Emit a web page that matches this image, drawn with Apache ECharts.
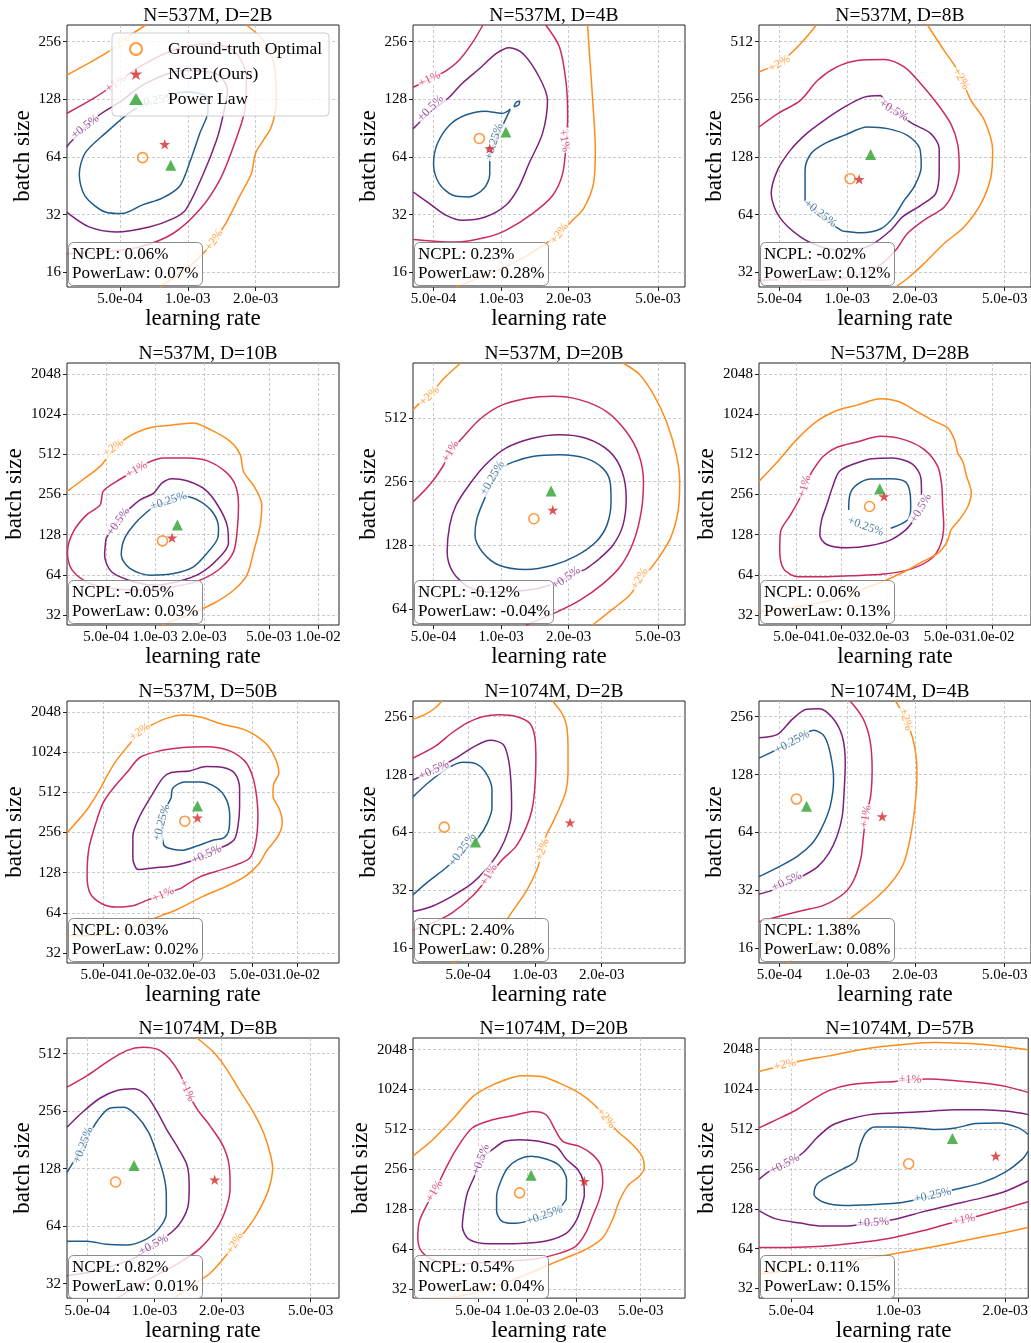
<!DOCTYPE html>
<html>
<head>
<meta charset="utf-8">
<script src="https://cdn.jsdelivr.net/npm/echarts@6/dist/echarts.min.js"></script>
<style>html,body{margin:0;padding:0;background:#fff}#main{width:1031px;height:1343px}</style>
</head>
<body>
<div id="main"></div>
<script>
// panel titles, axis ranges and ticks
var panelTitles = ["N=537M, D=2B", "N=537M, D=4B", "N=537M, D=8B", "N=537M, D=10B", "N=537M, D=20B", "N=537M, D=28B",
  "N=537M, D=50B", "N=1074M, D=2B", "N=1074M, D=4B", "N=1074M, D=8B", "N=1074M, D=20B", "N=1074M, D=57B"];
var lrRanges = [[2.91e-4, 4.69e-3], [4.05e-4, 6.6e-3], [4.06e-4, 6.54e-3], [2.88e-4, 1.345e-2], [4.05e-4, 6.6e-3], [2.84e-4, 1.82e-2],
  [2.86e-4, 1.9e-2], [2.82e-4, 4.75e-3], [4.06e-4, 6.54e-3], [4.06e-4, 6.7e-3], [1.99e-4, 9.36e-3], [4.06e-4, 2.32e-3]];
var bsRanges = [[13.4, 313], [13.4, 313], [26.8, 626], [26.9, 2477], [53.7, 933], [26.9, 2477],
  [26.9, 2477], [13.4, 309], [13.4, 309], [26.9, 618], [27.3, 2504], [27.1, 2504]];
var lrTicks = [[5e-4, 1e-3, 2e-3], [5e-4, 1e-3, 2e-3, 5e-3], [5e-4, 1e-3, 2e-3, 5e-3], [5e-4, 1e-3, 2e-3, 5e-3, 1e-2],
  [5e-4, 1e-3, 2e-3, 5e-3], [5e-4, 1e-3, 2e-3, 5e-3, 1e-2], [5e-4, 1e-3, 2e-3, 5e-3, 1e-2], [5e-4, 1e-3, 2e-3],
  [5e-4, 1e-3, 2e-3, 5e-3], [5e-4, 1e-3, 2e-3, 5e-3], [5e-4, 1e-3, 2e-3, 5e-3], [5e-4, 1e-3, 2e-3]];
var bsTicks = [[16, 32, 64, 128, 256], [16, 32, 64, 128, 256], [32, 64, 128, 256, 512], [32, 64, 128, 256, 512, 1024, 2048],
  [64, 128, 256, 512], [32, 64, 128, 256, 512, 1024, 2048], [32, 64, 128, 256, 512, 1024, 2048], [16, 32, 64, 128, 256],
  [16, 32, 64, 128, 256], [32, 64, 128, 256, 512], [32, 64, 128, 256, 512, 1024, 2048], [32, 64, 128, 256, 512, 1024, 2048]];

// optimum markers [lr, batch size]
var groundTruth = [[6.3e-4, 63.5], [8.0e-4, 80], [1.03e-3, 98.6], [1.11e-3, 115], [1.4e-3, 171], [1.54e-3, 208],
  [1.76e-3, 311], [3.9e-4, 68.2], [5.95e-4, 95.5], [6.7e-4, 109], [9.0e-4, 170], [1.07e-3, 281]];
var ncplOpt = [[7.9e-4, 74.5], [8.9e-4, 70.8], [1.13e-3, 98], [1.27e-3, 121.5], [1.7e-3, 188], [1.92e-3, 247],
  [2.14e-3, 330], [1.44e-3, 72], [1.43e-3, 77.5], [1.86e-3, 112], [2.25e-3, 208], [1.88e-3, 321]];
var powerLawOpt = [[8.4e-4, 57.9], [1.05e-3, 86.5], [1.27e-3, 132], [1.37e-3, 151], [1.67e-3, 231], [1.8e-3, 283],
  [2.14e-3, 404], [5.4e-4, 57], [6.6e-4, 87.5], [8.1e-4, 133], [1.06e-3, 231], [1.42e-3, 436]];
var ncplGap = ["0.06%", "0.23%", "-0.02%", "-0.05%", "-0.12%", "0.06%", "0.03%", "2.40%", "1.38%", "0.82%", "0.54%", "0.11%"];
var powerLawGap = ["0.07%", "0.28%", "0.12%", "0.03%", "-0.04%", "0.13%", "0.02%", "0.28%", "0.08%", "0.01%", "0.04%", "0.15%"];

var levelNames = ["+0.25%", "+0.5%", "+1%", "+2%"];

// contour lines: per level, a list of segments of [lr, batch size]
var lines537M2B = [
  [[[7.2e-4,127],[5.7e-4,112],[4.3e-4,85],[3.5e-4,67],[3.3e-4,52],[3.5e-4,40],[4.3e-4,33],[5.1e-4,32.4],[6.3e-4,36],[7.7e-4,39],[9.2e-4,45],[1.03e-3,62],[1.13e-3,85],[1.23e-3,112],[1.21e-3,132],[9.8e-4,140],[7.2e-4,127]]],
  [[[2.9e-4,72],[3.0e-4,76],[4.05e-4,106],[5.0e-4,124],[6.5e-4,155],[9.5e-4,181],[1.34e-3,174],[1.5e-3,143],[1.43e-3,104],[1.34e-3,78],[1.17e-3,52],[9.8e-4,34],[8.6e-4,30.5],[6.75e-4,27.6],[4.8e-4,26],[3.65e-4,27.6],[2.9e-4,33]]],
  [[[2.9e-4,108],[3.8e-4,129],[4.8e-4,155],[6.1e-4,189],[8.6e-4,231],[1.21e-3,250],[1.59e-3,231],[1.82e-3,167],[1.79e-3,112],[1.59e-3,72],[1.38e-3,48],[1.13e-3,34],[8.6e-4,25.5],[6.1e-4,21.7],[4.05e-4,20.4],[2.9e-4,20]]],
  [[[2.9e-4,171],[3.5e-4,193],[4.3e-4,222],[5.0e-4,250],[5.7e-4,282],[6.5e-4,313]],
   [[1.82e-3,313],[2.16e-3,260],[2.43e-3,189],[2.47e-3,126],[2.35e-3,92],[2.16e-3,78],[2.0e-3,67],[1.91e-3,52],[1.7e-3,40],[1.48e-3,29],[1.31e-3,23.5],[1.13e-3,19.2],[9.2e-4,15.7],[7.5e-4,13.4]]]
];
var labels537M2B = [[0,7.2e-4,126,10],[1,3.5e-4,92,38],[2,4.8e-4,155,35],[3,5.0e-4,250,40],[3,1.31e-3,23.5,55]];

var lines537M4B = [
  [[[1.1e-3,114],[1.01e-3,92],[9.3e-4,75],[8.9e-4,61.5],[8.9e-4,52],[8.4e-4,44],[7.2e-4,39.6],[6.1e-4,40.4],[5.3e-4,46.5],[5.0e-4,59],[5.2e-4,75],[5.9e-4,94],[6.95e-4,106],[8.5e-4,111],[1.01e-3,108],[1.1e-3,114]],
   [[1.14e-3,117],[1.17e-3,124],[1.21e-3,125],[1.2e-3,120],[1.14e-3,117]]],
  [[[4.06e-4,42],[4.8e-4,36.5],[5.7e-4,31.7],[6.7e-4,29.9],[8.5e-4,31.1],[1.05e-3,35.8],[1.2e-3,44.6],[1.33e-3,59],[1.53e-3,85],[1.61e-3,126.5],[1.48e-3,167],[1.25e-3,222],[1.09e-3,238],[9.5e-4,222],[8.0e-4,185],[6.7e-4,155],[5.9e-4,132],[4.85e-4,110],[4.06e-4,90]]],
  [[[8.3e-4,313],[7.4e-4,250],[6.5e-4,205],[5.7e-4,181],[4.8e-4,163],[4.06e-4,148]],
   [[1.58e-3,313],[1.82e-3,240],[1.95e-3,155],[1.98e-3,103.5],[1.95e-3,75],[1.88e-3,52.4],[1.7e-3,40.4],[1.38e-3,32.4],[1.05e-3,26.5],[8.5e-4,24.3],[6.3e-4,23],[4.9e-4,23.3],[4.06e-4,23.7]]],
  [[[2.43e-3,313],[2.47e-3,231],[2.56e-3,126.5],[2.63e-3,69],[2.58e-3,46.5],[2.33e-3,34.4],[2.08e-3,29.9],[1.82e-3,25.5],[1.58e-3,22.6],[1.2e-3,18.5],[8.5e-4,15.4],[6.3e-4,13.4]]]
];
var labels537M4B = [[2,4.8e-4,163,25],[1,4.85e-4,115,45],[0,9.3e-4,77,72],[2,1.91e-3,78,-80],[3,1.82e-3,25.5,55]];

var lines537M8B = [
  [[[9.5e-4,52.6],[1.15e-3,51.5],[1.41e-3,54],[1.61e-3,62.3],[1.79e-3,76],[1.98e-3,89.3],[2.13e-3,113.5],[2.1e-3,141.5],[1.85e-3,166],[1.51e-3,180],[1.23e-3,183.6],[9.7e-4,166],[7.9e-4,150],[6.9e-4,133],[6.5e-4,109],[6.5e-4,89],[6.5e-4,76],[7.6e-4,64.8],[8.7e-4,56.3],[9.5e-4,52.6]]],
  [[[1.41e-3,268],[1.19e-3,263],[9.7e-4,233],[7.9e-4,199],[6.6e-4,169.5],[5.6e-4,139],[4.9e-4,109],[4.6e-4,82.4],[5.0e-4,62.3],[6.2e-4,49],[7.9e-4,43],[1.0e-3,41.7],[1.27e-3,44.3],[1.56e-3,53],[1.76e-3,62.3],[2.12e-3,71.6],[2.47e-3,82.4],[2.56e-3,109],[2.56e-3,141.5],[2.35e-3,169.5],[1.95e-3,191],[1.61e-3,224],[1.41e-3,268]]],
  [[[4.06e-4,183.6],[4.9e-4,215],[6.2e-4,253],[7.4e-4,322],[9.0e-4,378],[1.11e-3,409],[1.46e-3,414],[1.79e-3,378],[2.12e-3,309],[2.51e-3,243],[2.88e-3,191],[3.09e-3,150],[3.14e-3,113.5],[2.98e-3,85.7],[2.69e-3,70],[2.19e-3,59.8],[1.85e-3,51],[1.64e-3,41.7],[1.36e-3,34.1],[1.03e-3,30.3],[7.4e-4,29.1],[5.6e-4,29.3],[4.06e-4,29.1]]],
  [[[4.06e-4,356],[4.6e-4,378],[5.0e-4,393],[5.6e-4,443],[6.4e-4,520],[7.3e-4,626]],
   [[2.27e-3,626],[2.69e-3,461],[3.09e-3,363],[3.54e-3,253],[4.06e-3,199],[4.42e-3,139],[4.34e-3,100.6],[3.92e-3,73],[3.3e-3,55.2],[2.69e-3,45.2],[2.19e-3,35.5],[1.85e-3,29.7],[1.64e-3,26.8]]]
];
var labels537M8B = [[3,5.0e-4,393,30],[3,3.2e-3,328,-60],[1,1.61e-3,224,-30],[0,7.6e-4,64.8,-38],[2,5.6e-4,29.3,0]];

var lines537M10B = [
  [[[9.5e-4,202],[7.7e-4,160],[6.5e-4,120],[6.2e-4,90],[7.0e-4,71.4],[9.3e-4,63.6],[1.3e-3,65.5],[1.72e-3,73.5],[2.08e-3,92.6],[2.42e-3,120],[2.45e-3,143],[2.28e-3,185],[1.89e-3,227],[1.53e-3,247],[1.21e-3,227],[9.5e-4,202]]],
  [[[5.0e-4,120],[4.9e-4,90],[5.4e-4,67.4],[7.4e-4,56.7],[1.02e-3,53.5],[1.42e-3,57.4],[1.89e-3,65.5],[2.39e-3,82.5],[2.82e-3,110],[2.78e-3,147],[2.45e-3,208],[2.03e-3,278],[1.57e-3,324],[1.27e-3,336],[1.1e-3,311],[9.8e-4,262],[8.1e-4,233],[6.7e-4,191],[5.8e-4,156],[5.0e-4,120]]],
  [[[8.9e-4,440],[1.13e-3,480],[1.57e-3,480],[2.08e-3,459],[2.69e-3,381],[3.1e-3,303],[3.25e-3,214],[3.2e-3,143],[3.03e-3,95],[2.51e-3,71.4],[1.89e-3,58.4],[1.3e-3,52],[8.9e-4,49],[5.8e-4,50],[4.0e-4,55],[3.1e-4,69.4],[2.9e-4,95],[3.15e-4,135],[3.8e-4,180],[4.6e-4,214],[4.8e-4,270],[5.8e-4,321],[7.4e-4,381],[8.9e-4,440]]],
  [[[2.88e-4,270],[3.6e-4,330],[4.6e-4,416],[5.55e-4,555],[6.7e-4,679],[8.9e-4,799],[1.24e-3,846],[1.72e-3,881],[2.18e-3,785],[2.89e-3,641],[3.33e-3,509],[3.49e-3,381],[4.11e-3,286],[4.52e-3,214],[4.42e-3,151],[4.02e-3,95],[3.66e-3,63.6],[3.03e-3,49],[2.28e-3,39],[1.57e-3,31.8],[1.1e-3,26.9]]]
];
var labels537M10B = [[3,5.55e-4,571,35],[2,7.7e-4,393,30],[1,5.95e-4,160,55],[0,1.21e-3,229,18]];

var lines537M20B = [
  [[[8.4e-4,210],[7.8e-4,171],[7.65e-4,143],[8.25e-4,119],[9.8e-4,103],[1.29e-3,98.4],[1.7e-3,103],[2.16e-3,114],[2.65e-3,133],[2.96e-3,159],[3.09e-3,206],[3.06e-3,256],[2.84e-3,296],[2.39e-3,330],[1.82e-3,343],[1.38e-3,337],[1.12e-3,316],[9.8e-4,291],[9.15e-4,256],[8.4e-4,210]]],
  [[[2.39e-3,99],[1.88e-3,88],[1.53e-3,81],[1.2e-3,77.7],[9.15e-4,76.8],[7.2e-4,81],[6.1e-4,95.6],[5.75e-4,119],[5.9e-4,159],[6.3e-4,198],[7.2e-4,247],[8.5e-4,307],[1.05e-3,369],[1.38e-3,411],[1.82e-3,427],[2.39e-3,411],[3.04e-3,356],[3.46e-3,286],[3.61e-3,213],[3.49e-3,159],[3.15e-3,128],[2.74e-3,110.6],[2.39e-3,99]]],
  [[[4.06e-4,206],[4.8e-4,247],[5.5e-4,302],[5.95e-4,356],[6.7e-4,411],[8.0e-4,503],[9.8e-4,582],[1.29e-3,633],[1.7e-3,649],[2.23e-3,626],[2.94e-3,551],[3.61e-3,442],[4.11e-3,343],[4.31e-3,256],[4.21e-3,184],[3.89e-3,133],[3.43e-3,103],[2.84e-3,84],[2.23e-3,70],[1.7e-3,60.6],[1.29e-3,53.7]]],
  [[[4.06e-4,561],[4.5e-4,626],[4.85e-4,661],[5.5e-4,779],[6.6e-4,933]],
   [[3.49e-3,933],[4.14e-3,823],[4.83e-3,649],[5.45e-3,494],[6.04e-3,343],[6.25e-3,256],[6.14e-3,184],[5.68e-3,138],[5.0e-3,110.6],[4.51e-3,95.6],[4.14e-3,86.3],[3.73e-3,74],[3.15e-3,64],[2.56e-3,53.7]]]
];
var labels537M20B = [[3,4.8e-4,649,45],[2,5.95e-4,356,60],[0,9.15e-4,266,60],[1,1.95e-3,89.5,35],[3,4.14e-3,89,60]];

var lines537M28B = [
  [[[1.12e-3,196],[1.14e-3,255],[1.27e-3,303],[1.56e-3,334],[2.13e-3,336],[2.68e-3,317],[2.87e-3,255],[2.89e-3,202],[2.75e-3,165],[2.13e-3,143]]],
  [[[3.41e-3,255],[3.38e-3,340],[2.97e-3,433],[2.18e-3,480],[1.6e-3,475],[1.21e-3,433],[9.7e-4,381],[8.7e-4,286],[8.0e-4,214],[7.4e-4,165],[7.2e-4,127],[8.0e-4,108],[1.09e-3,102],[1.56e-3,106],[2.13e-3,117],[2.68e-3,139],[2.97e-3,160]]],
  [[[6.4e-4,381],[7.6e-4,495],[9.35e-4,578],[1.27e-3,634],[1.82e-3,699],[2.61e-3,660],[3.56e-3,555],[4.37e-3,416],[4.64e-3,303],[4.71e-3,214],[4.79e-3,151],[4.55e-3,107],[3.94e-3,84],[2.89e-3,70.6],[1.92e-3,64.8],[1.15e-3,62.9],[7.6e-4,61.8],[5.2e-4,61.8],[4.15e-4,70.6],[3.9e-4,98],[3.95e-4,135],[4.6e-4,180],[5.3e-4,240],[5.7e-4,294],[6.4e-4,381]]],
  [[[2.84e-4,321],[3.7e-4,440],[5.05e-4,660],[6.9e-4,907],[9.35e-4,1091],[1.27e-3,1197],[1.82e-3,1335],[2.42e-3,1268],[3.21e-3,1066],[4.15e-3,907],[5.09e-3,808],[5.64e-3,660],[5.94e-3,524],[6.41e-3,453],[6.75e-3,360],[7.3e-3,262],[6.93e-3,208],[6.19e-3,170],[5.36e-3,139],[5.04e-3,113],[4.37e-3,92.6],[3.38e-3,79],[2.61e-3,67.4],[1.92e-3,57.4],[1.41e-3,50.5],[1.15e-3,46.3],[8.45e-4,41.3],[5.3e-4,37.2],[3.5e-4,34.7],[2.84e-4,34.1]]]
];
var labels537M28B = [[2,5.7e-4,294,75],[1,3.38e-3,202,60],[0,1.45e-3,147,-20],[3,1.15e-3,46.3,20]];

var lines537M50B = [
  [[[1.43e-3,467],[1.47e-3,555],[1.76e-3,612],[2.22e-3,612],[2.87e-3,555],[3.34e-3,453],[3.52e-3,340],[3.48e-3,270],[3.21e-3,233],[2.72e-3,224],[2.1e-3,202],[1.67e-3,188],[1.36e-3,196],[1.27e-3,208],[1.23e-3,303],[1.43e-3,467]]],
  [[[2.0e-3,158],[1.51e-3,145],[1.11e-3,139],[8.6e-4,135],[7.9e-4,165],[7.9e-4,240],[8.8e-4,340],[1.05e-3,480],[1.26e-3,660],[1.43e-3,720],[1.9e-3,741],[2.46e-3,799],[3.18e-3,785],[3.8e-3,712],[4.1e-3,555],[4.1e-3,404],[4.0e-3,286],[3.8e-3,229],[3.43e-3,208],[2.87e-3,191],[2.46e-3,175],[2.0e-3,158]]],
  [[[1.67e-3,98],[2.22e-3,119],[2.87e-3,131],[3.8e-3,145],[4.79e-3,165],[5.25e-3,214],[5.44e-3,340],[5.25e-3,539],[4.91e-3,720],[4.43e-3,881],[3.52e-3,1048],[2.46e-3,1123],[1.71e-3,1110],[1.2e-3,1048],[8.8e-4,934],[7.2e-4,720],[6.0e-4,571],[5.0e-4,428],[4.4e-4,286],[4.0e-4,191],[3.9e-4,120],[4.1e-4,89],[4.9e-4,74.8],[6.1e-4,70.6],[7.9e-4,72.3],[1.0e-3,80],[1.26e-3,87.4],[1.67e-3,98]]],
  [[[2.86e-4,255],[3.9e-4,381],[4.75e-4,539],[5.3e-4,679],[6.1e-4,881],[7.5e-4,1176],[8.8e-4,1456],[1.05e-3,1635],[1.33e-3,1835],[1.71e-3,1944],[2.27e-3,1868],[3.1e-3,1663],[4.32e-3,1525],[5.3e-3,1359],[6.35e-3,1143],[7.22e-3,881],[7.52e-3,720],[6.93e-3,588],[6.86e-3,480],[7.6e-3,381],[7.92e-3,303],[7.41e-3,240],[6.19e-3,185],[5.58e-3,151],[4.55e-3,121.5],[3.34e-3,101],[2.33e-3,85],[1.55e-3,67.4],[1.03e-3,56.7],[7.2e-4,48.2],[4.75e-4,43.7],[2.86e-4,43]]]
];
var labels537M50B = [[3,8.8e-4,1456,35],[0,1.23e-3,303,75],[1,2.46e-3,175,25],[2,1.26e-3,87.4,25]];

var lines1074M2B = [
  [[[2.82e-4,98],[3.3e-4,116],[3.95e-4,136],[4.7e-4,148.5],[5.4e-4,146],[6.0e-4,131],[6.4e-4,107],[6.4e-4,85.7],[6.1e-4,71.6],[5.6e-4,61],[4.7e-4,50],[3.95e-4,41.7],[3.3e-4,35.5],[2.82e-4,30.3]]],
  [[[2.82e-4,120],[3.5e-4,135],[4.4e-4,156],[5.3e-4,178.5],[6.3e-4,193],[7.2e-4,183.5],[7.6e-4,153],[7.8e-4,116],[7.85e-4,84],[7.6e-4,66],[6.9e-4,51],[6.0e-4,40.9],[5.2e-4,34.8],[4.2e-4,29.7],[3.4e-4,26.3],[2.82e-4,24.8]]],
  [[[2.82e-4,156],[3.56e-4,180],[4.2e-4,210],[4.95e-4,238],[5.8e-4,256],[6.9e-4,262],[8.3e-4,256],[9.5e-4,236],[1.0e-3,199],[1.01e-3,153],[1.0e-3,111],[9.7e-4,84],[9.1e-4,67.4],[8.2e-4,54],[7.1e-4,46],[6.2e-4,37.7],[5.2e-4,29.7],[4.2e-4,24.3],[3.4e-4,21.5],[2.82e-4,19.9]]],
  [[[2.82e-4,248],[3.2e-4,263],[3.56e-4,285],[3.8e-4,309]],
   [[1.2e-3,309],[1.32e-3,268],[1.39e-3,229],[1.41e-3,173],[1.41e-3,131],[1.38e-3,105],[1.29e-3,85.7],[1.2e-3,71.6],[1.12e-3,61],[1.08e-3,51],[1.02e-3,40.9],[9.2e-4,32.1],[8.0e-4,25.3],[6.9e-4,19.9],[5.6e-4,15.9],[4.2e-4,13.3]]]
];
var labels1074M2B = [[1,3.5e-4,135,25],[0,4.7e-4,52,55],[2,6.2e-4,38.5,60],[3,1.08e-3,52,70]];

var lines1074M4B = [
  [[[4.06e-4,156],[5.7e-4,189],[7.1e-4,218],[7.9e-4,203],[8.4e-4,166],[8.7e-4,120.5],[8.4e-4,87.5],[7.7e-4,67.4],[7.0e-4,56.3],[6.0e-4,48],[5.0e-4,42.5],[4.06e-4,37.7]]],
  [[[4.06e-4,199],[4.9e-4,207],[5.7e-4,248],[6.6e-4,280],[7.5e-4,282],[8.6e-4,253],[9.5e-4,203],[9.8e-4,147],[9.7e-4,107],[9.5e-4,77.5],[9.0e-4,61],[8.3e-4,50],[7.4e-4,42.5],[6.4e-4,38.2],[5.4e-4,34.8],[4.6e-4,31.9],[4.06e-4,30.6]]],
  [[[1.03e-3,309],[1.17e-3,253],[1.26e-3,195],[1.29e-3,136],[1.27e-3,98.6],[1.21e-3,77.5],[1.18e-3,61],[1.15e-3,47],[1.07e-3,36.2],[9.7e-4,30.9],[7.9e-4,26.8],[6.2e-4,25],[5.05e-4,23.5],[4.06e-4,22]]],
  [[[1.64e-3,309],[1.82e-3,248],[1.95e-3,199],[2.02e-3,160],[2.04e-3,125.5],[1.99e-3,84],[1.91e-3,61],[1.78e-3,44.3],[1.56e-3,34.8],[1.34e-3,29.1],[1.13e-3,24.8],[9.7e-4,21.5],[7.9e-4,18],[6.4e-4,15.3],[5.4e-4,13.3]]]
];
var labels1074M4B = [[0,5.7e-4,189,28],[1,5.4e-4,35.5,25],[2,1.21e-3,77.5,80],[3,1.82e-3,248,-75]];

var lines1074M8B = [
  [[[4.06e-4,122],[4.8e-4,170],[5.5e-4,224],[6.3e-4,265],[7.3e-4,268],[8.3e-4,243],[9.4e-4,199],[1.02e-3,156],[1.1e-3,118],[1.13e-3,93],[1.13e-3,74.5],[1.05e-3,62.3],[9.2e-4,54.8],[7.5e-4,51],[6.1e-4,51.4],[5.0e-4,53.4],[4.06e-4,53.4]]],
  [[[4.06e-4,211],[4.8e-4,255],[5.7e-4,299],[6.8e-4,328],[8.1e-4,335],[9.2e-4,309],[1.02e-3,258],[1.13e-3,207],[1.28e-3,163],[1.4e-3,133],[1.43e-3,105],[1.42e-3,84],[1.33e-3,68.8],[1.2e-3,59.8],[9.9e-4,51],[8.1e-4,43.4],[6.3e-4,39.3],[5.1e-4,36.7],[4.06e-4,35.2]]],
  [[[4.06e-4,342],[5.0e-4,393],[6.1e-4,461],[7.5e-4,531],[8.9e-4,553],[1.04e-3,537],[1.17e-3,480],[1.3e-3,401],[1.4e-3,328],[1.55e-3,263],[1.77e-3,215],[2.02e-3,170],[2.16e-3,133],[2.18e-3,100.6],[2.09e-3,79],[1.9e-3,62.3],[1.6e-3,49],[1.3e-3,41.4],[1.02e-3,35.5],[8.3e-4,31.2],[6.8e-4,26.8]]],
  [[[1.55e-3,618],[1.84e-3,520],[2.1e-3,426],[2.41e-3,328],[2.77e-3,253],[3.09e-3,195],[3.31e-3,150],[3.38e-3,128],[3.27e-3,103],[3.05e-3,84],[2.77e-3,68.8],[2.5e-3,58.6],[2.29e-3,52],[2.1e-3,45.2],[1.77e-3,36.2],[1.44e-3,30.9],[1.22e-3,26.8]]]
];
var labels1074M8B = [[0,4.8e-4,170,70],[2,1.4e-3,328,-65],[1,9.9e-4,51,28],[3,2.29e-3,52,60]];

var lines1074M20B = [
  [[[1.74e-3,151],[1.75e-3,214],[1.58e-3,273],[1.31e-3,306],[1.06e-3,321],[8.8e-4,303],[7.6e-4,262],[6.9e-4,208],[6.5e-4,160],[6.5e-4,124],[7.0e-4,104],[8.2e-4,100],[1.01e-3,104],[1.28e-3,115],[1.54e-3,126],[1.74e-3,151]]],
  [[[6.3e-4,370],[7.3e-4,416],[9.0e-4,428],[1.19e-3,416],[1.51e-3,381],[1.75e-3,303],[2.05e-3,255],[2.22e-3,208],[2.25e-3,165],[2.15e-3,131],[2.0e-3,104],[1.74e-3,84],[1.31e-3,73.5],[9.0e-4,70.6],[5.9e-4,70.2],[4.4e-4,75.7],[4.0e-4,95],[4.1e-4,127],[4.3e-4,170],[4.75e-4,227],[5.2e-4,303],[6.3e-4,370]]],
  [[[3.1e-4,247],[3.66e-4,360],[4.6e-4,524],[6.15e-4,605],[8.2e-4,649],[1.08e-3,699],[1.31e-3,660],[1.47e-3,524],[1.66e-3,416],[2.1e-3,381],[2.53e-3,330],[2.85e-3,270],[2.92e-3,202],[2.78e-3,151],[2.53e-3,113],[2.3e-3,85],[2.0e-3,67.4],[1.58e-3,59.4],[1.14e-3,54.1],[7.8e-4,52],[5.3e-4,50.5],[3.66e-4,49],[2.76e-4,52],[2.26e-4,60.8],[2.13e-4,77.9],[2.18e-4,104],[2.4e-4,135],[2.7e-4,175],[3.1e-4,247]]],
  [[[2.0e-4,324],[2.63e-4,428],[3.5e-4,612],[4.6e-4,896],[5.6e-4,1048],[7.1e-4,1190],[9.2e-4,1298],[1.22e-3,1283],[1.58e-3,1143],[2.1e-3,961],[2.59e-3,785],[3.06e-3,623],[3.52e-3,509],[4.35e-3,404],[5.09e-3,321],[5.26e-3,262],[4.9e-3,227],[4.15e-3,191],[3.69e-3,147],[3.36e-3,107],[2.92e-3,78],[2.3e-3,63.6],[1.74e-3,55],[1.31e-3,47.7],[9.4e-4,40.1],[6.45e-4,33.7],[4.4e-4,29.2],[3.0e-4,27.2],[2.0e-4,26.8]]]
];
var labels1074M20B = [[2,2.7e-4,175,60],[1,5.2e-4,303,70],[0,1.28e-3,115,20],[3,3.06e-3,623,-50]];

var lines1074M57B = [
  [[[2.32e-3,467],[2.18e-3,524],[1.92e-3,571],[1.65e-3,565],[1.45e-3,524],[1.27e-3,509],[1.12e-3,524],[9.8e-4,533],[8.6e-4,533],[8.1e-4,480],[7.8e-4,381],[7.6e-4,294],[7.0e-4,257],[6.4e-4,227],[5.9e-4,196],[5.8e-4,165],[6.2e-4,143],[7.1e-4,136],[8.5e-4,138],[9.8e-4,141],[1.08e-3,147],[1.25e-3,162],[1.45e-3,180],[1.72e-3,202],[2.0e-3,243],[2.23e-3,303],[2.32e-3,350]]],
  [[[4.06e-4,214],[4.4e-4,252],[4.8e-4,278],[5.4e-4,340],[5.9e-4,440],[6.5e-4,546],[7.3e-4,612],[8.3e-4,660],[9.8e-4,679],[1.22e-3,699],[1.45e-3,720],[1.72e-3,720],[2.04e-3,699],[2.32e-3,660]],
   [[4.06e-4,124],[4.5e-4,108],[5.3e-4,100],[6.1e-4,95],[7.1e-4,95],[8.5e-4,101],[9.8e-4,107],[1.17e-3,121.5],[1.39e-3,136],[1.65e-3,151],[1.96e-3,170],[2.32e-3,208]]],
  [[[4.06e-4,524],[4.55e-4,605],[5.15e-4,712],[5.7e-4,846],[6.4e-4,1007],[7.3e-4,1110],[8.6e-4,1156],[9.8e-4,1176],[1.08e-3,1213],[1.22e-3,1225],[1.45e-3,1190],[1.72e-3,1143],[2.0e-3,1079],[2.32e-3,972]],
   [[4.06e-4,65.5],[4.9e-4,65.5],[6.1e-4,66.7],[7.6e-4,70.6],[9.4e-4,76.5],[1.17e-3,87.4],[1.39e-3,99.3],[1.53e-3,106],[1.72e-3,115],[2.0e-3,129],[2.32e-3,145]]],
  [[[4.06e-4,1399],[4.8e-4,1570],[5.4e-4,1693],[6.4e-4,1835],[7.6e-4,2013],[9.0e-4,2157],[1.07e-3,2260],[1.27e-3,2312],[1.51e-3,2285],[1.8e-3,2221],[2.04e-3,2132],[2.32e-3,2037]],
   [[4.06e-4,41.3],[4.9e-4,43.7],[5.7e-4,46.3],[6.8e-4,50.5],[8.5e-4,55],[1.05e-3,60.8],[1.3e-3,67.4],[1.61e-3,75.7],[2.0e-3,85],[2.32e-3,92.6]]]
];
var labels1074M57B = [[3,4.8e-4,1570,12],[2,1.08e-3,1213,0],[1,4.8e-4,278,28],[0,1.25e-3,162,12],[1,8.5e-4,101,3],[2,1.53e-3,106,10],[3,5.7e-4,46.3,5]];

var panelLines = [lines537M2B, lines537M4B, lines537M8B, lines537M10B, lines537M20B, lines537M28B,
  lines537M50B, lines1074M2B, lines1074M4B, lines1074M8B, lines1074M20B, lines1074M57B];
var panelLabels = [labels537M2B, labels537M4B, labels537M8B, labels537M10B, labels537M20B, labels537M28B,
  labels537M50B, labels1074M2B, labels1074M4B, labels1074M8B, labels1074M20B, labels1074M57B];

// ---- drawing ----
var FONT = '"Liberation Serif", "Times New Roman", serif';
var levelColors = ['#1f5b8a', '#7d1f7d', '#cc2a5c', '#ff8c1a'];
var starPath = 'path://M50,0 L61.2,34.5 L97.6,34.5 L68.2,55.9 L79.4,90.5 L50,69.1 L20.6,90.5 L31.8,55.9 L2.4,34.5 L38.8,34.5 Z';
var gridLefts = [67, 413, 759];
var gridTops = [25, 363, 701, 1038];
var GW = 272, GH = 262;

function lx(v) { return Math.log10(v); }
function ly(v) { return Math.log2(v); }
function toXY(p) { return [lx(p[0]), ly(p[1])]; }
function fmtLr(v) {
  return Math.pow(10, v).toExponential(1).replace(/e([+-])(\d)$/, 'e$10$2');
}
function fmtBs(v) { return String(Math.round(Math.pow(2, v))); }

var myChart = echarts.init(document.getElementById('main'));
var grids = [], xAxes = [], yAxes = [], series = [], titles = [];
var labelStyle = { fontFamily: FONT, fontSize: 15, color: '#000' };
var gridLine = { show: true, lineStyle: { color: '#bdbdbd', width: 0.8, type: [3, 2] } };

for (var i = 0; i < 12; i++) {
  var col = i % 3, row = Math.floor(i / 3);
  var gl = gridLefts[col], gt = gridTops[row];
  grids.push({
    left: gl, top: gt, width: GW, height: GH, show: true,
    borderColor: '#222', borderWidth: 1, backgroundColor: 'transparent'
  });
  var xt = lrTicks[i].map(lx), yt = bsTicks[i].map(ly);
  // x tick labels are split over two stacked axes so that touching labels are all kept
  var xEven = xt.filter(function (v, k) { return k % 2 === 0; });
  var xOdd = xt.filter(function (v, k) { return k % 2 === 1; });
  var xMin = lx(lrRanges[i][0]), xMax = lx(lrRanges[i][1]);
  xAxes.push({
    type: 'value', gridIndex: i, position: 'bottom', min: xMin, max: xMax,
    name: 'learning rate', nameLocation: 'middle', nameGap: 19,
    nameTextStyle: { fontFamily: FONT, fontSize: 23, color: '#000' },
    axisLine: { show: false },
    axisTick: { show: true, length: 4, customValues: xt, lineStyle: { color: '#222' } },
    axisLabel: Object.assign({ customValues: xEven, formatter: fmtLr, margin: 5, showMinLabel: true, showMaxLabel: true }, labelStyle),
    splitLine: gridLine
  });
  xAxes.push({
    type: 'value', gridIndex: i, position: 'bottom', offset: 0, min: xMin, max: xMax,
    axisLine: { show: false }, axisTick: { show: false }, splitLine: { show: false },
    axisLabel: Object.assign({ customValues: xOdd.length ? xOdd : [xMax + 1], formatter: fmtLr, margin: 5, showMinLabel: true, showMaxLabel: true }, labelStyle)
  });
  var wide = bsTicks[i][bsTicks[i].length - 1] >= 1000;
  yAxes.push({
    type: 'value', gridIndex: i, min: ly(bsRanges[i][0]), max: ly(bsRanges[i][1]),
    name: 'batch size', nameLocation: 'middle', nameGap: wide ? 41 : 31,
    nameTextStyle: { fontFamily: FONT, fontSize: 23, color: '#000' },
    axisLine: { show: false },
    axisTick: { show: true, length: 4, customValues: yt, lineStyle: { color: '#222' } },
    axisLabel: Object.assign({ customValues: yt, formatter: fmtBs, margin: 6, showMinLabel: true, showMaxLabel: true }, labelStyle),
    splitLine: gridLine
  });
  var xi = 2 * i;

  // contour lines
  panelLines[i].forEach(function (segs, lev) {
    segs.forEach(function (seg) {
      series.push({
        type: 'line', xAxisIndex: xi, yAxisIndex: i, data: seg.map(toXY),
        smooth: 0.3, showSymbol: false, symbol: 'none', silent: true, z: 2,
        lineStyle: { color: levelColors[lev], width: 1.5 }
      });
    });
  });

  // inline contour labels
  series.push({
    type: 'scatter', xAxisIndex: xi, yAxisIndex: i, symbolSize: 1, silent: true, z: 3,
    itemStyle: { color: 'rgba(0,0,0,0)' },
    data: panelLabels[i].map(function (l) {
      return {
        value: [lx(l[1]), ly(l[2])],
        label: {
          show: true, position: 'inside', formatter: levelNames[l[0]], rotate: l[3],
          color: levelColors[l[0]], fontFamily: FONT, fontSize: 12,
          backgroundColor: '#fff', padding: [0, 1]
        }
      };
    })
  });

  // optimum markers
  series.push({
    name: 'Ground-truth Optimal', type: 'scatter', xAxisIndex: xi, yAxisIndex: i, z: 6,
    symbol: 'circle', symbolSize: 10, data: [toXY(groundTruth[i])],
    itemStyle: { color: 'rgba(255,255,255,0)', borderColor: '#ff7f0e', borderWidth: 1.6 }
  });
  series.push({
    name: 'NCPL(Ours)', type: 'scatter', xAxisIndex: xi, yAxisIndex: i, z: 6,
    symbol: starPath, symbolSize: 11, symbolKeepAspect: true, data: [toXY(ncplOpt[i])],
    itemStyle: { color: '#d62728' }
  });
  series.push({
    name: 'Power Law', type: 'scatter', xAxisIndex: xi, yAxisIndex: i, z: 6,
    symbol: 'triangle', symbolSize: 11, data: [toXY(powerLawOpt[i])],
    itemStyle: { color: '#2ca02c' }
  });

  titles.push({
    text: panelTitles[i], left: gl + GW / 2, top: gt - 24, textAlign: 'center',
    textStyle: { fontFamily: FONT, fontSize: 19.5, fontWeight: 'normal', color: '#000' }
  });
  titles.push({
    text: 'NCPL: ' + ncplGap[i] + '\nPowerLaw: ' + powerLawGap[i],
    left: gl + 1, top: gt + GH - 45,
    backgroundColor: 'rgba(255,255,255,0.8)', borderColor: '#8a8a8a', borderWidth: 1, borderRadius: 5,
    padding: [3, 4, 3, 4],
    textStyle: { fontFamily: FONT, fontSize: 17, fontWeight: 'normal', color: '#000', lineHeight: 19 }
  });
}

var option = {
  animation: false,
  backgroundColor: '#fff',
  title: titles,
  grid: grids,
  xAxis: xAxes,
  yAxis: yAxes,
  legend: {
    data: ['Ground-truth Optimal', 'NCPL(Ours)', 'Power Law'],
    orient: 'vertical', left: 112, top: 33, z: 10, selectedMode: false,
    itemWidth: 14, itemHeight: 12, itemGap: 7, padding: [7, 7, 8, 17],
    backgroundColor: 'rgba(255,255,255,0.8)', borderColor: '#cccccc', borderWidth: 1, borderRadius: 4,
    textStyle: { fontFamily: FONT, fontSize: 17.5, color: '#000', padding: [0, 0, 0, 20] }
  },
  series: series
};

myChart.setOption(option);
</script>
</body>
</html>
